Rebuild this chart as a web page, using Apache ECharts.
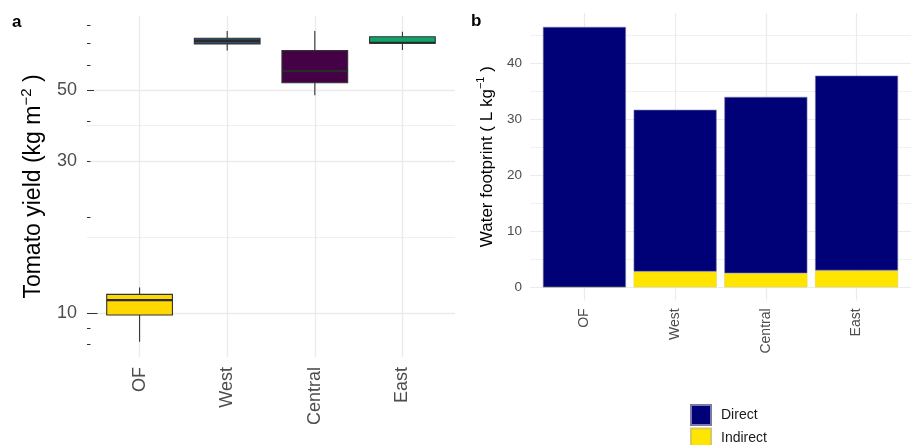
<!DOCTYPE html>
<html>
<head>
<meta charset="utf-8">
<script src="https://cdn.jsdelivr.net/npm/echarts@6/dist/echarts.min.js"></script>
<style>
  html, body { margin: 0; padding: 0; background: #fff; }
  #main { width: 911px; height: 445px; }
</style>
</head>
<body>
<div id="main"></div>
<script>
var sites = ['OF', 'West', 'Central', 'East'];

// tomato yield (kg m-2), box stats per site
var yieldMin = [8.15, 66.6, 48.3, 66.9];
var yieldQ1 = [9.88, 69.9, 52.8, 70.2];
var yieldMedian = [11.0, 71.5, 57.4, 70.5];
var yieldQ3 = [11.47, 72.8, 66.6, 73.6];
var yieldMax = [12.06, 76.7, 76.7, 76.3];
var boxColors = ['#FFD800', '#2E4D6E', '#440145', '#10A36B'];

// log axis breaks
var yieldLabels = [10, 30, 50];
var yieldMinorGrid = [17.32, 38.73];
var logTicksShort = [8, 9, 20, 30, 40, 60, 70, 80];
var logTicksMid = [50];
var logTicksLong = [10];

// water footprint (L kg-1)
var direct = [46.5, 28.9, 31.5, 34.8];
var indirect = [0, 2.8, 2.5, 3.0];
var wfLabels = [0, 10, 20, 30, 40];
var wfMinor = [5, 15, 25, 35, 45];

var FONT = 'Liberation Sans';
var lg = function (v) { return Math.log10(v); };
var idx = [0, 1, 2, 3];

var chart = echarts.init(document.getElementById('main'), null, { renderer: 'canvas' });

// y axis that only draws the little log ticks at the left edge
function tickAxis(values, len) {
  return {
    type: 'value', gridIndex: 0, min: lg(7.3), max: lg(85.5),
    position: 'left', offset: 0,
    axisLine: { show: false },
    axisLabel: { show: false },
    splitLine: { show: false },
    axisTick: { show: true, inside: true, length: len, customValues: values.map(lg),
      lineStyle: { color: '#333', width: 1 } }
  };
}

var boxData = idx.map(function (i) {
  return [i, lg(yieldMin[i]), lg(yieldQ1[i]), lg(yieldMedian[i]), lg(yieldQ3[i]), lg(yieldMax[i])];
});

var option = {
  animation: false,
  textStyle: { fontFamily: FONT },
  title: [
    { text: 'a', left: 7, top: 9, textStyle: { fontSize: 17, fontWeight: 'bold', color: '#000', fontFamily: FONT } },
    { text: 'b', left: 466, top: 8, textStyle: { fontSize: 17, fontWeight: 'bold', color: '#000', fontFamily: FONT } }
  ],
  legend: {
    data: ['Direct', 'Indirect'],
    orient: 'vertical', left: 690, top: 404, height: 60, padding: 0,
    itemWidth: 20, itemHeight: 20, itemGap: 1.5, icon: 'rect',
    textStyle: { fontSize: 14, color: '#1a1a1a', fontFamily: FONT, padding: [0, 0, 0, 5] }
  },
  grid: [
    { left: 87, top: 16, width: 368, height: 341 },
    { left: 530, top: 13, width: 388, height: 287.4 }
  ],
  xAxis: [
    {
      type: 'value', gridIndex: 0, min: -0.6, max: 3.6,
      axisLine: { show: false },
      axisTick: { show: false, customValues: idx },
      splitLine: { show: true, lineStyle: { color: '#ebebeb', width: 1.4 } },
      axisLabel: { customValues: idx, rotate: 90, margin: 10, fontSize: 18, color: '#4d4d4d',
        fontFamily: FONT, formatter: function (v) { return sites[Math.round(v)]; } }
    },
    {
      type: 'value', gridIndex: 1, min: -0.6, max: 3.6,
      axisLine: { show: false },
      axisTick: { show: false, customValues: idx },
      splitLine: { show: true, lineStyle: { color: '#ebebeb', width: 1.2 } },
      axisLabel: { customValues: idx, rotate: 90, margin: 8, fontSize: 14, color: '#4d4d4d',
        fontFamily: FONT, formatter: function (v) { return sites[Math.round(v)]; } }
    }
  ],
  yAxis: [
    {
      type: 'value', gridIndex: 0, min: lg(7.3), max: lg(85.5),
      position: 'left', offset: 0,
      axisLine: { show: false },
      axisTick: { show: false, customValues: yieldLabels.map(lg) },
      splitLine: { show: true, lineStyle: { color: '#ebebeb', width: 1.4 } },
      axisLabel: { customValues: yieldLabels.map(lg), margin: 10, fontSize: 18, color: '#4d4d4d', fontFamily: FONT,
        formatter: function (v) { return Math.round(Math.pow(10, v)); } },
      name: 'Tomato yield (kg m{sup|\u22122} )',
      nameLocation: 'middle', nameGap: 38,
      nameTextStyle: { fontSize: 23, color: '#000', fontFamily: FONT, lineHeight: 30,
        rich: { sup: { fontSize: 15, lineHeight: 15, verticalAlign: 'top', color: '#000', fontFamily: FONT } } }
    },
    {
      type: 'value', gridIndex: 0, min: lg(7.3), max: lg(85.5),
      position: 'left', offset: 0,
      axisLine: { show: false }, axisLabel: { show: false },
      axisTick: { show: false, customValues: yieldMinorGrid.map(lg) },
      splitLine: { show: true, lineStyle: { color: '#ebebeb', width: 0.8 } }
    },
    tickAxis(logTicksShort, 3.5),
    tickAxis(logTicksMid, 7),
    tickAxis(logTicksLong, 10.5),
    {
      type: 'value', gridIndex: 1, min: -2.34, max: 48.98,
      position: 'left', offset: 0,
      axisLine: { show: false },
      axisTick: { show: false, customValues: wfLabels },
      splitLine: { show: true, lineStyle: { color: '#ebebeb', width: 1.2 } },
      axisLabel: { customValues: wfLabels, margin: 8, fontSize: 13.5, color: '#4d4d4d', fontFamily: FONT },
      name: 'Water footprint ( L kg{sup|\u22121} )',
      nameLocation: 'middle', nameGap: 31,
      nameTextStyle: { fontSize: 17, color: '#000', fontFamily: FONT, lineHeight: 24,
        rich: { sup: { fontSize: 11, lineHeight: 11, verticalAlign: 'top', color: '#000', fontFamily: FONT } } }
    },
    {
      type: 'value', gridIndex: 1, min: -2.34, max: 48.98,
      position: 'left', offset: 0,
      axisLine: { show: false }, axisLabel: { show: false },
      axisTick: { show: false, customValues: wfMinor },
      splitLine: { show: true, lineStyle: { color: '#ebebeb', width: 0.7 } }
    }
  ],
  series: [
    {
      name: 'yield', type: 'custom', xAxisIndex: 0, yAxisIndex: 0,
      data: boxData,
      encode: { x: 0, y: [1, 2, 3, 4, 5] },
      renderItem: function (params, api) {
        var x = api.value(0);
        var lo = api.coord([x, api.value(1)]);
        var q1 = api.coord([x, api.value(2)]);
        var md = api.coord([x, api.value(3)]);
        var q3 = api.coord([x, api.value(4)]);
        var hi = api.coord([x, api.value(5)]);
        var half = api.size([0.75, 0])[0] / 2;
        var stroke = { stroke: '#333', lineWidth: 1.1 };
        return {
          type: 'group',
          children: [
            { type: 'line', shape: { x1: lo[0], y1: lo[1], x2: q1[0], y2: q1[1] }, style: stroke },
            { type: 'line', shape: { x1: q3[0], y1: q3[1], x2: hi[0], y2: hi[1] }, style: stroke },
            { type: 'rect', shape: { x: q3[0] - half, y: q3[1], width: half * 2, height: q1[1] - q3[1] },
              style: { fill: boxColors[params.dataIndex], stroke: '#333', lineWidth: 1.1 } },
            { type: 'line', shape: { x1: md[0] - half, y1: md[1], x2: md[0] + half, y2: md[1] },
              style: { stroke: '#2a2a2a', lineWidth: 2.2 } }
          ]
        };
      }
    },
    // value first, site index second, so the stack runs on the y values
    {
      name: 'Indirect', type: 'bar', xAxisIndex: 1, yAxisIndex: 5, stack: 'wf',
      barWidth: 83,
      encode: { x: 1, y: 0 },
      data: idx.map(function (i) { return [indirect[i], i]; }),
      itemStyle: { color: '#FFE500', borderColor: '#d8c860', borderWidth: 0.4 }
    },
    {
      name: 'Direct', type: 'bar', xAxisIndex: 1, yAxisIndex: 5, stack: 'wf',
      barWidth: 83,
      encode: { x: 1, y: 0 },
      data: idx.map(function (i) { return [direct[i], i]; }),
      itemStyle: { color: '#000077', borderColor: '#7a7aa8', borderWidth: 0.6 }
    }
  ]
};

chart.setOption(option);
</script>
</body>
</html>
